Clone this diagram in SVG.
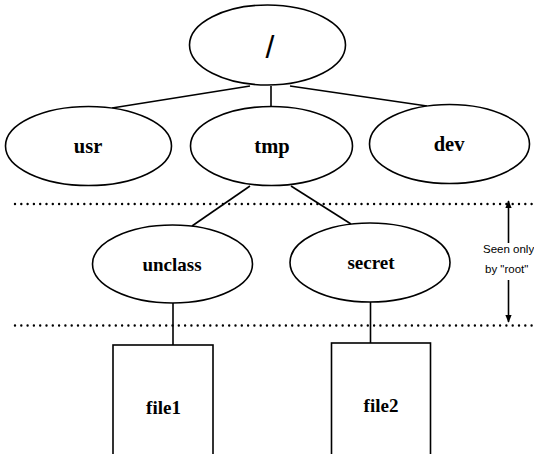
<svg xmlns="http://www.w3.org/2000/svg" width="534" height="454" viewBox="0 0 534 454">
<defs>
<style>
.n{fill:#fff;stroke:#000;stroke-width:1.6}
.t{font-family:"Liberation Serif",serif;font-weight:bold;text-anchor:middle;fill:#000}
.c{stroke:#000;stroke-width:1.6;fill:none}
.d{stroke:#000;stroke-width:2.4;stroke-linecap:round;stroke-dasharray:0 6.3;fill:none}
.s{font-family:"Liberation Sans",sans-serif;font-size:11.5px;fill:#000}
</style>
<marker id="ah" viewBox="0 0 10 10" refX="9" refY="5" markerWidth="8" markerHeight="10" markerUnits="userSpaceOnUse" orient="auto">
<path d="M0,1 L10,5 L0,9 Z" fill="#000"/>
</marker>
</defs>
<rect width="534" height="454" fill="#fff"/>
<g id="connectors">
<line class="c" x1="250" y1="86" x2="112" y2="108"/>
<line class="c" x1="271" y1="86" x2="271" y2="107"/>
<line class="c" x1="290" y1="86" x2="427" y2="106"/>
<line class="c" x1="250" y1="186" x2="192" y2="226"/>
<line class="c" x1="291" y1="186" x2="351" y2="224"/>
<line class="c" x1="173" y1="303" x2="173" y2="345"/>
<line class="c" x1="370.5" y1="302" x2="370.5" y2="343"/>
</g>
<g id="boundaries">
<line class="d" x1="15" y1="204" x2="534" y2="204"/>
<line class="d" x1="15" y1="325.5" x2="534" y2="325.5"/>
<line class="c" x1="508.5" y1="243" x2="508.5" y2="201" marker-end="url(#ah)" stroke-width="1.4"/>
<line class="c" x1="508.5" y1="280" x2="508.5" y2="322" marker-end="url(#ah)" stroke-width="1.4"/>
<text class="s" x="483" y="253">Seen only</text>
<text class="s" x="485" y="273">by "root"</text>
</g>
<g id="root">
<ellipse class="n" cx="267.5" cy="45" rx="78" ry="40"/>
<text class="t" x="270" y="58" style="font-family:'Liberation Sans',sans-serif;font-weight:normal;font-size:32px">/</text>
</g>
<g id="usr">
<ellipse class="n" cx="88.5" cy="146" rx="83" ry="39.5"/>
<text class="t" x="88" y="153" font-size="20.5">usr</text>
</g>
<g id="tmp">
<ellipse class="n" cx="271.5" cy="146" rx="81" ry="39.5"/>
<text class="t" x="272" y="153" font-size="20.5">tmp</text>
</g>
<g id="dev">
<ellipse class="n" cx="449.5" cy="144" rx="80" ry="39.5"/>
<text class="t" x="449" y="151" font-size="20.5">dev</text>
</g>
<g id="unclass">
<ellipse class="n" cx="172.5" cy="264" rx="80" ry="39"/>
<text class="t" x="172" y="271" font-size="19">unclass</text>
</g>
<g id="secret">
<ellipse class="n" cx="370" cy="262.5" rx="80" ry="39.5"/>
<text class="t" x="371" y="269" font-size="19">secret</text>
</g>
<g id="file1">
<rect class="n" x="113" y="345" width="100" height="115"/>
<text class="t" x="163.5" y="414" font-size="19">file1</text>
</g>
<g id="file2">
<rect class="n" x="331.5" y="343" width="99" height="117"/>
<text class="t" x="381" y="412" font-size="19">file2</text>
</g>
</svg>
